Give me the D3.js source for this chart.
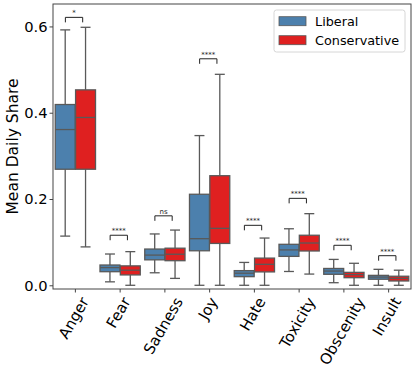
<!DOCTYPE html>
<html>
<head>
<meta charset="utf-8">
<script src="https://cdn.jsdelivr.net/npm/d3@7"></script>
<style>
  body { margin: 0; background: #fff; }
  svg { font-family: "DejaVu Sans", sans-serif; display: block; }
</style>
</head>
<body>
<div id="container"></div>
<script>
/** CONSTANTS AND GLOBALS */
const width = 416,
  height = 376,
  margin = { top: 4, bottom: 87, left: 53, right: 5 };

/** DATA */
const categories = ["Anger", "Fear", "Sadness", "Joy", "Hate", "Toxicity", "Obscenity", "Insult"];
const groups = ["Liberal", "Conservative"];
const colors = ["#4c80ad", "#df2020"];

// [whisker low, q1, median, q3, whisker high]
const liberalStats = [
  [0.114, 0.269, 0.361, 0.419, 0.592],
  [0.008, 0.0315, 0.041, 0.047, 0.0725],
  [0.029, 0.059, 0.070, 0.084, 0.119],
  [0.0, 0.080, 0.108, 0.211, 0.347],
  [0.0, 0.020, 0.028, 0.034, 0.053],
  [0.032, 0.067, 0.082, 0.095, 0.131],
  [0.006, 0.0255, 0.033, 0.039, 0.060],
  [0.0, 0.014, 0.019, 0.023, 0.037]
];
const conservativeStats = [
  [0.089, 0.269, 0.389, 0.453, 0.598],
  [0.0, 0.024, 0.035, 0.045, 0.078],
  [0.016, 0.057, 0.072, 0.086, 0.128],
  [0.0, 0.097, 0.132, 0.254, 0.489],
  [0.0, 0.031, 0.0486, 0.063, 0.1095],
  [0.026, 0.0795, 0.098, 0.116, 0.166],
  [0.0, 0.0176, 0.0246, 0.030, 0.051],
  [0.0, 0.010, 0.016, 0.021, 0.035]
];
const sigLabels = ["*", "****", "ns", "****", "****", "****", "****", "****"];
const sigY = [0.621, 0.116, 0.161, 0.525, 0.139, 0.2015, 0.0927, 0.0686];
const yTicks = [0.0, 0.2, 0.4, 0.6];

/** BUILD */
const svg = d3.select("#container")
  .append("svg")
  .attr("width", width)
  .attr("height", height);

const x = d3.scaleBand()
  .domain(categories)
  .range([margin.left, width - margin.right])
  .padding(0);

const xHue = d3.scaleBand()
  .domain(groups)
  .range([0, x.bandwidth()])
  .paddingInner(0)
  .paddingOuter(0.1);

const y = d3.scaleLinear()
  .domain([-0.0086, 0.652])
  .range([height - margin.bottom, margin.top]);

const edge = "#595959";

// boxes
const boxData = [];
categories.forEach((c, i) => {
  [liberalStats[i], conservativeStats[i]].forEach((s, g) => {
    boxData.push({ cat: c, group: groups[g], gi: g, lo: s[0], q1: s[1], med: s[2], q3: s[3], hi: s[4] });
  });
});

const boxW = xHue.bandwidth() * 0.98;
const capW = boxW * 0.5;

const boxes = svg.selectAll(".box")
  .data(boxData)
  .join("g")
  .attr("class", "box")
  .attr("transform", d => `translate(${x(d.cat) + xHue(d.group) + xHue.bandwidth() / 2}, 0)`);

// whiskers
boxes.append("line")
  .attr("x1", 0).attr("x2", 0)
  .attr("y1", d => y(d.hi)).attr("y2", d => y(d.q3))
  .attr("stroke", edge).attr("stroke-width", 1.3);
boxes.append("line")
  .attr("x1", 0).attr("x2", 0)
  .attr("y1", d => y(d.q1)).attr("y2", d => y(d.lo))
  .attr("stroke", edge).attr("stroke-width", 1.3);
boxes.append("line")
  .attr("x1", -capW / 2).attr("x2", capW / 2)
  .attr("y1", d => y(d.hi)).attr("y2", d => y(d.hi))
  .attr("stroke", edge).attr("stroke-width", 1.3);
boxes.append("line")
  .attr("x1", -capW / 2).attr("x2", capW / 2)
  .attr("y1", d => y(d.lo)).attr("y2", d => y(d.lo))
  .attr("stroke", edge).attr("stroke-width", 1.3);

boxes.append("rect")
  .attr("x", -boxW / 2)
  .attr("width", boxW)
  .attr("y", d => y(d.q3))
  .attr("height", d => y(d.q1) - y(d.q3))
  .attr("fill", d => colors[d.gi])
  .attr("stroke", edge)
  .attr("stroke-width", 1.3);

boxes.append("line")
  .attr("x1", -boxW / 2).attr("x2", boxW / 2)
  .attr("y1", d => y(d.med)).attr("y2", d => y(d.med))
  .attr("stroke", edge).attr("stroke-width", 1.3);

// significance brackets
const sig = svg.selectAll(".sig")
  .data(categories)
  .join("g")
  .attr("class", "sig");

sig.append("path")
  .attr("d", (c, i) => {
    const x0 = x(c) + x.bandwidth() / 2 - 10;
    const x1 = x(c) + x.bandwidth() / 2 + 7.3;
    const yy = y(sigY[i]);
    return `M${x0},${yy + 5}V${yy}H${x1}V${yy + 5}`;
  })
  .attr("fill", "none")
  .attr("stroke", "#222")
  .attr("stroke-width", 1);

sig.append("text")
  .attr("x", c => x(c) + x.bandwidth() / 2 - 1.3)
  .attr("y", (c, i) => y(sigY[i]) - 2)
  .attr("text-anchor", "middle")
  .attr("font-size", 7)
  .attr("fill", "#222")
  .text((c, i) => sigLabels[i]);

// axes frame
svg.append("rect")
  .attr("x", margin.left)
  .attr("y", margin.top)
  .attr("width", width - margin.left - margin.right)
  .attr("height", height - margin.top - margin.bottom)
  .attr("fill", "none")
  .attr("stroke", "#444")
  .attr("stroke-width", 1);

// y axis
const yAxis = svg.append("g")
  .attr("transform", `translate(${margin.left},0)`)
  .call(d3.axisLeft(y).tickValues(yTicks).tickFormat(d3.format(".1f")).tickSize(3.5).tickPadding(2));
yAxis.select(".domain").remove();
yAxis.selectAll(".tick line").attr("stroke", "#444");
yAxis.selectAll(".tick text")
  .attr("font-size", 14.7)
  .attr("font-family", "DejaVu Sans")
  .attr("fill", "#000");

// x axis
const xAxis = svg.append("g")
  .attr("transform", `translate(0,${height - margin.bottom})`)
  .call(d3.axisBottom(x).tickSize(3.5).tickFormat(""));
xAxis.select(".domain").remove();
xAxis.selectAll(".tick line").attr("stroke", "#444");

const fs = 15;
const xLabels = svg.selectAll(".xlabel")
  .data(categories)
  .join("text")
  .attr("class", "xlabel")
  .attr("font-size", fs)
  .attr("text-anchor", "middle")
  .attr("dominant-baseline", "central")
  .attr("fill", "#000")
  .text(d => d);

xLabels.each(function (d) {
  const L = this.getComputedTextLength();
  const cx = x(d) + x.bandwidth() / 2 - 1.5;
  const cy = height - margin.bottom + 6 + (L * Math.sin(Math.PI / 3) + fs * Math.cos(Math.PI / 3)) / 2;
  d3.select(this)
    .attr("x", cx)
    .attr("y", cy)
    .attr("transform", `rotate(-60, ${cx}, ${cy})`);
});

// y label
svg.append("text")
  .attr("transform", `translate(12.5, ${(margin.top + height - margin.bottom) / 2}) rotate(-90)`)
  .attr("text-anchor", "middle")
  .attr("dominant-baseline", "central")
  .attr("font-size", 15.5)
  .attr("fill", "#000")
  .text("Mean Daily Share");

// legend
const legend = svg.append("g").attr("transform", "translate(274,10)");
legend.append("rect")
  .attr("width", 131)
  .attr("height", 42)
  .attr("rx", 2.5)
  .attr("fill", "#fff")
  .attr("fill-opacity", 0.8)
  .attr("stroke", "#d6d6d6");

const items = legend.selectAll(".item")
  .data(groups)
  .join("g")
  .attr("class", "item")
  .attr("transform", (d, i) => `translate(5, ${6.7 + i * 19})`);

items.append("rect")
  .attr("width", 27)
  .attr("height", 9)
  .attr("fill", (d, i) => colors[i])
  .attr("stroke", edge)
  .attr("stroke-width", 0.8);

items.append("text")
  .attr("x", 36)
  .attr("y", 4.5)
  .attr("dominant-baseline", "central")
  .attr("font-size", 12.8)
  .attr("fill", "#000")
  .text(d => d);
</script>
</body>
</html>
